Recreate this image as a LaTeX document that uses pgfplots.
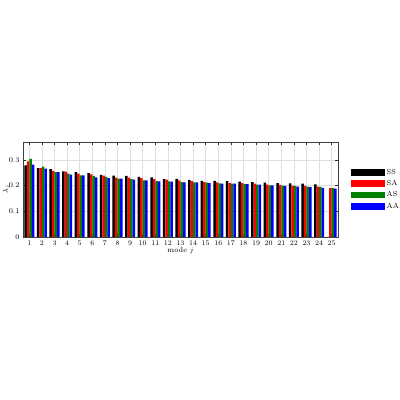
\documentclass[border=0pt]{standalone}
\usepackage{pgfplots}
\pgfplotsset{compat=1.18}
\begin{document}
\begin{tikzpicture}
\useasboundingbox (0pt,0pt) rectangle (400pt,400pt);
\begin{axis}[
  ybar, bar width=0.2,
  at={(23pt,163pt)}, anchor=south west,
  scale only axis, width=315pt, height=95pt,
  xmin=0.5, xmax=25.5, ymin=0, ymax=0.37,
  xtick={1,...,25}, ytick={0,0.1,0.2,0.3},
  yticklabels={0,0.1,0.2,0.3},
  grid=major, major grid style={gray!25, line width=0.4pt},
  axis line style={black!75, line width=0.5pt},
  tick style={black!80, line width=0.5pt},
  xtick pos=both, ytick pos=both,
  xtick align=inside, ytick align=inside, major tick length=3pt,
  tick label style={font=\fontsize{7.3}{8.5}\selectfont},
  label style={font=\fontsize{7.3}{8.5}\selectfont},
  xlabel={mode $j$}, ylabel={$\lambda_j$},
  xlabel style={yshift=4pt},
  ylabel style={at={(axis description cs:-0.053,0.5)}, anchor=center},
  legend style={at={(1.03,0.5)}, anchor=west, draw=none, fill=none,
    font=\fontsize{7.3}{8.5}\selectfont, row sep=0.5pt},
  legend cell align=left,
  legend image code/.code={\fill[#1] (0pt,-3.4pt) rectangle (34pt,3.4pt);},
]
\addplot[fill=black, draw=none, bar shift=-0.3] coordinates {
(1,0.279)(2,0.268)(3,0.264)(4,0.256)(5,0.253)(6,0.249)(7,0.242)(8,0.239)(9,0.238)(10,0.234)
(11,0.232)(12,0.225)(13,0.226)(14,0.222)(15,0.219)(16,0.219)(17,0.218)(18,0.216)(19,0.214)(20,0.212)
(21,0.210)(22,0.209)(23,0.208)(24,0.205)(25,0)};
\addplot[fill=red, draw=none, bar shift=-0.1] coordinates {
(1,0.295)(2,0.268)(3,0.258)(4,0.255)(5,0.247)(6,0.244)(7,0.239)(8,0.231)(9,0.231)(10,0.229)
(11,0.225)(12,0.223)(13,0.221)(14,0.218)(15,0.214)(16,0.213)(17,0.210)(18,0.210)(19,0.208)(20,0.204)
(21,0.203)(22,0.200)(23,0.199)(24,0.196)(25,0.190)};
\addplot[fill={rgb,1:red,0;green,0.5;blue,0}, draw=none, bar shift=0.1] coordinates {
(1,0.304)(2,0.274)(3,0.253)(4,0.247)(5,0.240)(6,0.238)(7,0.234)(8,0.227)(9,0.225)(10,0.221)
(11,0.218)(12,0.217)(13,0.214)(14,0.213)(15,0.212)(16,0.209)(17,0.208)(18,0.206)(19,0.204)(20,0.201)
(21,0.200)(22,0.199)(23,0.196)(24,0.195)(25,0.190)};
\addplot[fill=blue, draw=none, bar shift=0.3] coordinates {
(1,0.282)(2,0.266)(3,0.253)(4,0.243)(5,0.240)(6,0.232)(7,0.229)(8,0.227)(9,0.223)(10,0.221)
(11,0.217)(12,0.216)(13,0.213)(14,0.213)(15,0.210)(16,0.208)(17,0.208)(18,0.206)(19,0.204)(20,0.201)
(21,0.199)(22,0.196)(23,0.194)(24,0.191)(25,0.188)};
\legend{SS,SA,AS,AA}
\end{axis}
\end{tikzpicture}
\end{document}
